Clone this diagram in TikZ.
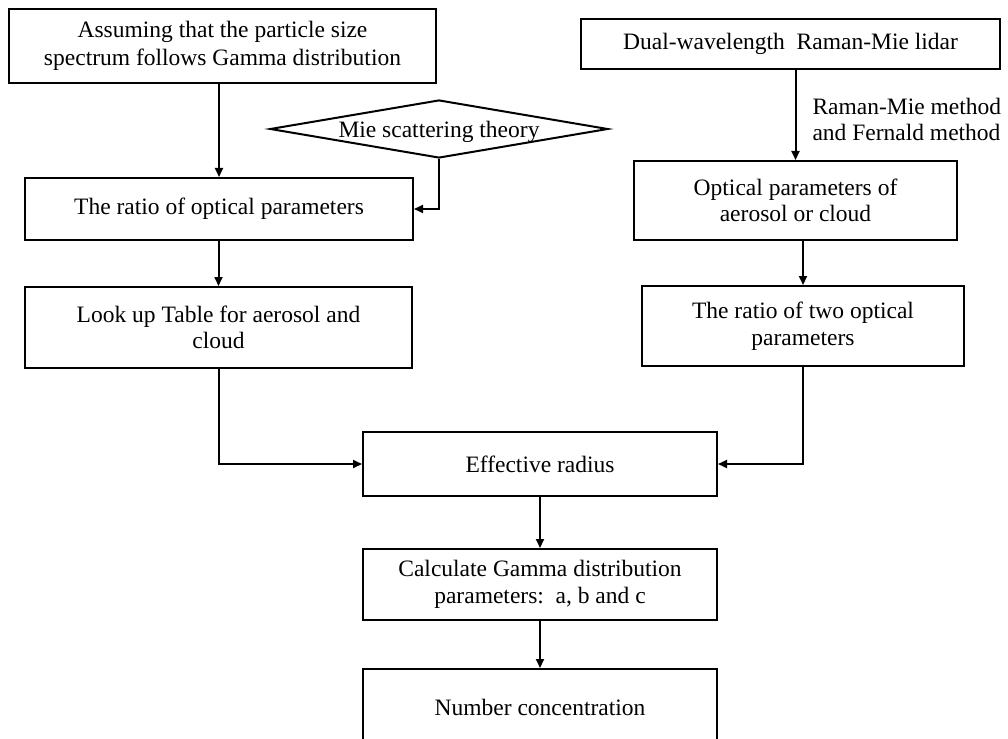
\documentclass[tikz,border=0pt]{standalone}
\usepackage{fontspec}
\setmainfont{Liberation Serif}
\usetikzlibrary{arrows.meta,shapes.geometric}
\begin{document}
\begin{tikzpicture}[x=1pt,y=-1pt,
  every node/.style={font=\fontsize{23.5}{26.5}\selectfont},
  box/.style={draw, line width=2pt, inner sep=0pt, align=center},
  arr/.style={line width=2pt, -{Triangle[length=9pt,width=8pt]}}]
\clip (0,0) rectangle (1008,738);
\node[box, minimum width=427pt, minimum height=74pt, font=\fontsize{23.5}{28}\selectfont] (b1) at (222.5,46)
  {Assuming that the particle size\\spectrum follows Gamma distribution};
\node[box, minimum width=388pt, minimum height=62pt] (b2) at (219,209)
  {The ratio of optical parameters};
\node[box, minimum width=419pt, minimum height=50pt] (b3) at (790.5,44)
  {Dual-wavelength\ \ Raman-Mie lidar};
\node[box, minimum width=323pt, minimum height=79pt] (b4) at (795.5,200.5)
  {Optical parameters of\\aerosol or cloud};
\node[box, minimum width=387pt, minimum height=81pt] (b5) at (218.5,327.5)
  {Look up Table for aerosol and\\cloud};
\node[box, minimum width=322pt, minimum height=80pt] (b6) at (803,326)
  {The ratio of two optical\\parameters};
\node[box, minimum width=354pt, minimum height=64pt] (b7) at (540,464)
  {Effective radius};
\node[box, minimum width=354pt, minimum height=71pt] (b8) at (540,584.5)
  {Calculate Gamma distribution\\parameters:\ \ a, b and c};
\node[box, minimum width=354pt, minimum height=76pt] (b9) at (540,707)
  {Number concentration};
\node[draw, diamond, line width=2pt, inner sep=0pt, minimum width=338pt,
  minimum height=58pt] (mie) at (439,129)
  {\makebox[0pt]{\raisebox{-9pt}[0pt][0pt]{Mie scattering theory}}};
% connectors
\draw[arr] (b2.north |- b1.south) -- (b2.north);
\draw[arr] (mie.south) |- (b2.east);
\draw[arr] (b5.north |- b2.south) -- (b5.north);
\draw[arr] (b4.north |- b3.south) -- node[pos=0.55, anchor=west, align=left, inner sep=0pt, xshift=16pt]
  {Raman-Mie method\\and Fernald method} (b4.north);
\draw[arr] (b6.north |- b4.south) -- (b6.north);
\draw[arr] (b5.south) |- (b7.west);
\draw[arr] (b6.south) |- (b7.east);
\draw[arr] (b7.south) -- (b8.north);
\draw[arr] (b8.south) -- (b9.north);
\end{tikzpicture}
\end{document}
